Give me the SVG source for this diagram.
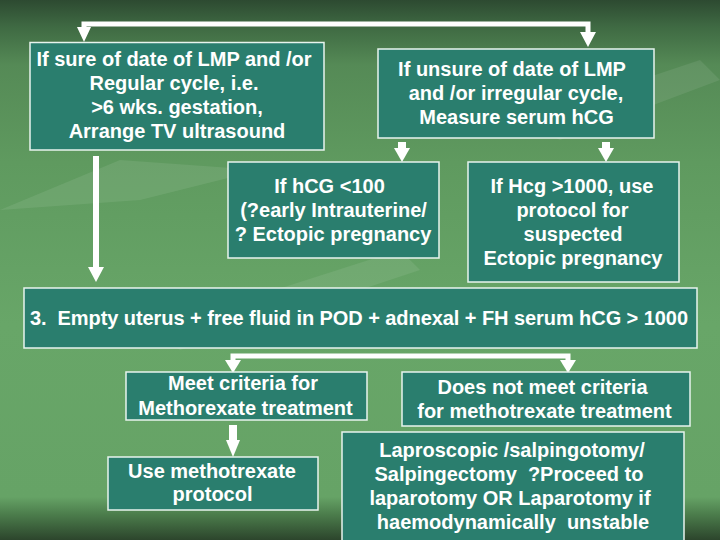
<svg xmlns="http://www.w3.org/2000/svg" width="720" height="540" viewBox="0 0 720 540">
<defs>
<linearGradient id="bg" x1="0" y1="0" x2="0" y2="1">
<stop offset="0" stop-color="#2d4a31"/>
<stop offset="0.05" stop-color="#3f6a43"/>
<stop offset="0.12" stop-color="#558a56"/>
<stop offset="0.3" stop-color="#5f9a5f"/>
<stop offset="0.6" stop-color="#68a668"/>
<stop offset="0.92" stop-color="#66a366"/>
<stop offset="0.955" stop-color="#4a7a4a"/>
<stop offset="1" stop-color="#2c452c"/>
</linearGradient>
<style>
.box{fill:#2a7e6e;stroke:#e8f4ee;stroke-width:1.5}
.t{font-family:"Liberation Sans",Arial,sans-serif;font-weight:bold;font-size:20px;fill:#ffffff;text-anchor:middle}
.ln{fill:none;stroke:#ffffff;stroke-width:5}
.ah{fill:#ffffff}
</style>
</defs>
<rect width="720" height="540" fill="url(#bg)"/>
<g opacity="0.08" fill="#ffffff">
<path d="M0,210 L120,160 L260,170 L140,200 Z"/>
<path d="M520,120 L700,60 L720,80 L560,140 Z"/>
<path d="M150,330 L400,250 L420,270 L180,350 Z"/>
</g>

<g id="connectors">
<path class="ln" d="M84,30 V24 H588 V34"/>
<polygon class="ah" points="77,27 91,27 84,42"/>
<polygon class="ah" points="580,32 596,32 588,47"/>
<rect class="ah" x="398" y="142" width="8" height="7"/>
<polygon class="ah" points="394,148 410,148 402,162"/>
<rect class="ah" x="602" y="142" width="8" height="7"/>
<polygon class="ah" points="598,148 614,148 606,162"/>
<rect class="ah" x="93" y="156" width="6" height="112"/>
<polygon class="ah" points="88,267 104,267 96,282"/>
<path class="ln" d="M233,362 V356 H568 V362"/>
<polygon class="ah" points="225,360 241,360 233,373"/>
<polygon class="ah" points="560,360 576,360 568,373"/>
<rect class="ah" x="229" y="425" width="8" height="16"/>
<polygon class="ah" points="226,440 240,440 233,457"/>
</g>

<g id="nodeA">
<rect class="box" x="30" y="42.5" width="294" height="107.5"/>
<text class="t" x="174" y="66">If sure of date of LMP and /or</text>
<text class="t" x="174" y="90">Regular cycle, i.e.</text>
<text class="t" x="177" y="114">&gt;6 wks. gestation,</text>
<text class="t" x="177" y="138">Arrange TV ultrasound</text>
</g>
<g id="nodeB">
<rect class="box" x="378" y="49" width="276" height="89"/>
<text class="t" x="512" y="76">If unsure of date of LMP</text>
<text class="t" x="516" y="100">and /or irregular cycle,</text>
<text class="t" x="516.5" y="124">Measure serum hCG</text>
</g>
<g id="nodeC">
<rect class="box" x="228" y="162" width="211" height="96"/>
<text class="t" x="329.5" y="193">If hCG &lt;100</text>
<text class="t" x="333.5" y="217">(?early Intrauterine/</text>
<text class="t" x="333" y="241">? Ectopic pregnancy</text>
</g>
<g id="nodeD">
<rect class="box" x="468" y="162" width="211" height="120"/>
<text class="t" x="572" y="193">If Hcg &gt;1000, use</text>
<text class="t" x="572.5" y="217">protocol for</text>
<text class="t" x="573" y="241">suspected</text>
<text class="t" x="573" y="265">Ectopic pregnancy</text>
</g>
<g id="nodeE">
<rect class="box" x="24" y="288" width="673" height="60"/>
<text class="t" x="359" y="325" textLength="658" lengthAdjust="spacing" xml:space="preserve">3.  Empty uterus + free fluid in POD + adnexal + FH serum hCG &gt; 1000</text>
</g>
<g id="nodeF">
<rect class="box" x="126" y="372" width="241" height="48"/>
<text class="t" x="243" y="390">Meet criteria for</text>
<text class="t" x="245.5" y="415">Methorexate treatment</text>
</g>
<g id="nodeG">
<rect class="box" x="402" y="372" width="288" height="54"/>
<text class="t" x="542.5" y="394">Does not meet criteria</text>
<text class="t" x="544.5" y="418">for methotrexate treatment</text>
</g>
<g id="nodeH">
<rect class="box" x="108" y="457" width="210" height="53"/>
<text class="t" x="212" y="478">Use methotrexate</text>
<text class="t" x="212.5" y="501">protocol</text>
</g>
<g id="nodeI">
<rect class="box" x="342" y="432" width="342" height="120"/>
<text class="t" x="512" y="457">Laproscopic /salpingotomy/</text>
<text class="t" x="509" y="481" xml:space="preserve">Salpingectomy  ?Proceed to</text>
<text class="t" x="510" y="505">laparotomy OR Laparotomy if</text>
<text class="t" x="513" y="529" xml:space="preserve">haemodynamically  unstable</text>
</g>
</svg>
